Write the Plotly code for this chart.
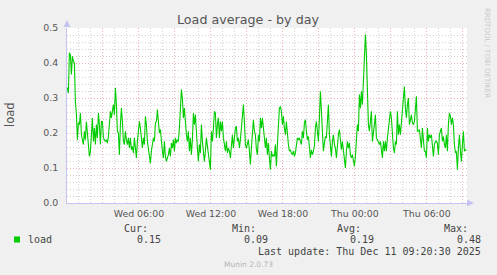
import pandas as pd
import plotly.graph_objects as go

# ---- data (one value per 5-minute step) ----
load_seg1 = [0.33, 0.314, 0.429, 0.424, 0.367, 0.419, 0.405, 0.40, 0.29, 0.252,
             0.181, 0.229, 0.224, 0.257, 0.195, 0.176, 0.167, 0.205, 0.181, 0.233,
             0.205, 0.176, 0.133, 0.148, 0.19, 0.243, 0.176, 0.214, 0.167, 0.224,
             0.186, 0.257, 0.224, 0.167, 0.233, 0.233, 0.186, 0.181, 0.176, 0.181,
             0.171, 0.19, 0.219, 0.262, 0.243, 0.271, 0.281, 0.252, 0.329, 0.281,
             0.205, 0.20, 0.138, 0.224, 0.271, 0.233, 0.176, 0.167]
load_seg2 = [0.205, 0.181, 0.167, 0.186, 0.157, 0.186, 0.152, 0.162, 0.143, 0.186,
             0.157, 0.129, 0.176, 0.20, 0.233, 0.214, 0.176, 0.157, 0.186, 0.167,
             0.248, 0.224, 0.176, 0.157, 0.129, 0.114, 0.148, 0.167, 0.186, 0.176,
             0.229, 0.233, 0.267, 0.233, 0.20, 0.21, 0.167, 0.148, 0.129, 0.176,
             0.133, 0.119, 0.129, 0.138, 0.157, 0.133, 0.171, 0.157, 0.181, 0.148,
             0.186, 0.171, 0.181, 0.176, 0.214, 0.271, 0.324, 0.30, 0.243, 0.271]
load_seg3 = [0.214, 0.195, 0.176, 0.205, 0.148, 0.186, 0.138, 0.181, 0.257, 0.224,
             0.252, 0.176, 0.157, 0.119, 0.167, 0.143, 0.224, 0.176, 0.148, 0.119,
             0.148, 0.186, 0.162, 0.138, 0.119, 0.095, 0.205, 0.176, 0.214, 0.262,
             0.257, 0.186, 0.224, 0.243, 0.186, 0.233, 0.205, 0.233, 0.186, 0.157,
             0.148, 0.176, 0.143, 0.157, 0.148, 0.129, 0.181, 0.195, 0.157, 0.195,
             0.214, 0.219, 0.176, 0.186, 0.157, 0.181, 0.214, 0.243, 0.281, 0.233]
load_seg4 = [0.167, 0.157, 0.176, 0.181, 0.148, 0.11, 0.157, 0.195, 0.238, 0.205,
             0.195, 0.152, 0.138, 0.195, 0.176, 0.243, 0.214, 0.243, 0.20, 0.186,
             0.157, 0.186, 0.138, 0.171, 0.129, 0.095, 0.148, 0.133, 0.138, 0.133,
             0.167, 0.105, 0.167, 0.233, 0.271, 0.276, 0.262, 0.224, 0.248, 0.214,
             0.195, 0.233, 0.186, 0.167, 0.148, 0.152, 0.143, 0.138, 0.148, 0.133,
             0.143, 0.176, 0.186, 0.181, 0.186, 0.176, 0.167, 0.205, 0.186, 0.229]
load_seg5 = [0.238, 0.205, 0.181, 0.19, 0.157, 0.129, 0.152, 0.138, 0.148, 0.162,
             0.214, 0.233, 0.205, 0.176, 0.243, 0.319, 0.262, 0.195, 0.148, 0.171,
             0.19, 0.186, 0.224, 0.281, 0.195, 0.157, 0.133, 0.176, 0.195, 0.167,
             0.157, 0.129, 0.181, 0.195, 0.21, 0.176, 0.152, 0.176, 0.152, 0.138,
             0.10, 0.148, 0.176, 0.157, 0.171, 0.138, 0.129, 0.138, 0.119, 0.105,
             0.133, 0.176, 0.224, 0.205, 0.31, 0.271, 0.319, 0.281, 0.357, 0.452]
load_seg6 = [0.481, 0.424, 0.29, 0.224, 0.205, 0.233, 0.262, 0.176, 0.195, 0.224,
             0.252, 0.186, 0.181, 0.171, 0.167, 0.176, 0.157, 0.129, 0.176, 0.148,
             0.176, 0.148, 0.186, 0.214, 0.224, 0.262, 0.243, 0.195, 0.157, 0.143,
             0.176, 0.167, 0.262, 0.195, 0.224, 0.195, 0.233, 0.262, 0.30, 0.333,
             0.271, 0.243, 0.281, 0.30, 0.224, 0.243, 0.252, 0.229, 0.224, 0.233,
             0.262, 0.305, 0.205, 0.205, 0.21, 0.181, 0.157, 0.214, 0.186, 0.148]
load_seg7 = [0.148, 0.129, 0.214, 0.176, 0.195, 0.186, 0.195, 0.148, 0.133, 0.167,
             0.176, 0.176, 0.171, 0.138, 0.195, 0.205, 0.214, 0.176, 0.19, 0.167,
             0.157, 0.195, 0.148, 0.224, 0.257, 0.248, 0.224, 0.243, 0.224, 0.167,
             0.143, 0.148, 0.095, 0.157, 0.195, 0.148, 0.119, 0.167, 0.205, 0.148,
             0.152, 0.15]
load_values = (load_seg1 + load_seg2 + load_seg3 + load_seg4 +
               load_seg5 + load_seg6 + load_seg7)

start_time = "2025-12-10 00:02:30"
range_start = "2025-12-10 00:00:30"
range_end = "2025-12-11 09:20:30"
times = pd.date_range(start_time, periods=len(load_values), freq="5min")

stat_headers = ["Cur:", "Min:", "Avg:", "Max:"]
stat_values = ["0.15", "0.09", "0.19", "0.48"]
series_name = "load"
last_update = "Last update: Thu Dec 11 09:20:30 2025"

y_ticks = [0.0, 0.1, 0.2, 0.3, 0.4, 0.5]

# ---- layout geometry ----
W, H = 497, 275
L, R, T, B = 67, 30, 28, 72
PW, PH = W - L - R, H - T - B


def px(x):
    return (x - L) / PW


def py(y):
    return (H - B - y) / PH


tick_vals = pd.date_range("2025-12-10 03:00", "2025-12-11 09:00", freq="3h")
tick_text = [t.strftime("%a %H:%M") if t.hour % 6 == 0 else "" for t in tick_vals]

fig = go.Figure()
fig.add_trace(go.Scatter(x=times, y=load_values, mode="lines",
                         line=dict(color="#00CC00", width=1.1),
                         name=series_name, hoverinfo="skip"))

red_grid = "#EFB0B0"
gray_grid = "#D2D2D2"
axis_col = "#C4C4F2"
dash = "1px,2px"
tick_font = dict(family="DejaVu Sans", size=9.4, color="#555555")

fig.update_layout(
    width=W, height=H,
    margin=dict(l=L, r=R, t=T, b=B, pad=0),
    paper_bgcolor="#F0F0F0", plot_bgcolor="#FFFFFF",
    showlegend=False,
    font=dict(family="DejaVu Sans", color="#555555"),
    xaxis=dict(type="date", range=[range_start, range_end],
               tickmode="array", tickvals=tick_vals, ticktext=tick_text,
               showgrid=True, gridcolor=red_grid, griddash=dash, gridwidth=1,
               minor=dict(dtick=3600000, showgrid=True, gridcolor=gray_grid,
                          griddash=dash, gridwidth=1),
               showline=True, linecolor=axis_col, linewidth=1,
               zeroline=False, ticks="", tickfont=tick_font, ticklabelstandoff=2),
    yaxis=dict(range=[0, 0.5], tickmode="array", tickvals=y_ticks,
               tickformat=".1f",
               showgrid=True, gridcolor=red_grid, griddash=dash, gridwidth=1,
               minor=dict(dtick=0.02, showgrid=True, gridcolor=gray_grid,
                          griddash=dash, gridwidth=1),
               showline=True, linecolor=axis_col, linewidth=1,
               zeroline=False, ticks="", tickfont=tick_font, ticklabelstandoff=6),
)

# axis arrows
fig.add_shape(type="path", xref="paper", yref="paper",
              path=f"M {px(63.5)} {py(27)} L {px(70.5)} {py(27)} L {px(67)} {py(20)} Z",
              fillcolor=axis_col, line=dict(width=0))
fig.add_shape(type="path", xref="paper", yref="paper",
              path=f"M {px(467)} {py(199.5)} L {px(467)} {py(206.5)} L {px(474)} {py(203)} Z",
              fillcolor=axis_col, line=dict(width=0))

ann = []
ann.append(dict(text="Load average - by day", x=px(248), y=py(19), xref="paper", yref="paper",
                showarrow=False, xanchor="center", yanchor="middle",
                font=dict(family="DejaVu Sans", size=12.7, color="#555555")))
ann.append(dict(text="load", x=px(10), y=py(115), xref="paper", yref="paper",
                showarrow=False, xanchor="center", yanchor="middle", textangle=-90,
                font=dict(family="DejaVu Sans", size=11.5, color="#555555")))
ann.append(dict(text="RRDTOOL / TOBI OETIKER", x=px(487), y=py(53), xref="paper", yref="paper",
                showarrow=False, xanchor="center", yanchor="middle", textangle=90,
                font=dict(family="DejaVu Sans", size=7, color="#C8C8C8")))

mono = dict(family="DejaVu Sans Mono", size=10, color="#444444")
header_right = [150, 258, 363, 470]
value_right = [163, 270, 376, 483]
for h, v, hx, vx in zip(stat_headers, stat_values, header_right, value_right):
    ann.append(dict(text=h, x=px(hx), y=py(228), xref="paper", yref="paper",
                    showarrow=False, xanchor="right", yanchor="middle", font=mono))
    ann.append(dict(text=v, x=px(vx), y=py(239.5), xref="paper", yref="paper",
                    showarrow=False, xanchor="right", yanchor="middle", font=mono))
ann.append(dict(text=series_name, x=px(26), y=py(239.5), xref="paper", yref="paper",
                showarrow=False, xanchor="left", yanchor="middle", font=mono))
ann.append(dict(text=last_update, x=px(483), y=py(251), xref="paper", yref="paper",
                showarrow=False, xanchor="right", yanchor="middle", font=mono))
ann.append(dict(text="Munin 2.0.73", x=px(248), y=py(264), xref="paper", yref="paper",
                showarrow=False, xanchor="center", yanchor="middle",
                font=dict(family="DejaVu Sans", size=7.5, color="#B4B4B4")))
fig.update_layout(annotations=ann)

# legend colour swatch
fig.add_shape(type="rect", xref="paper", yref="paper",
              x0=px(14), x1=px(20), y0=py(236.5), y1=py(242.5),
              fillcolor="#00CC00", line=dict(width=0))

fig.write_html("out.html")
